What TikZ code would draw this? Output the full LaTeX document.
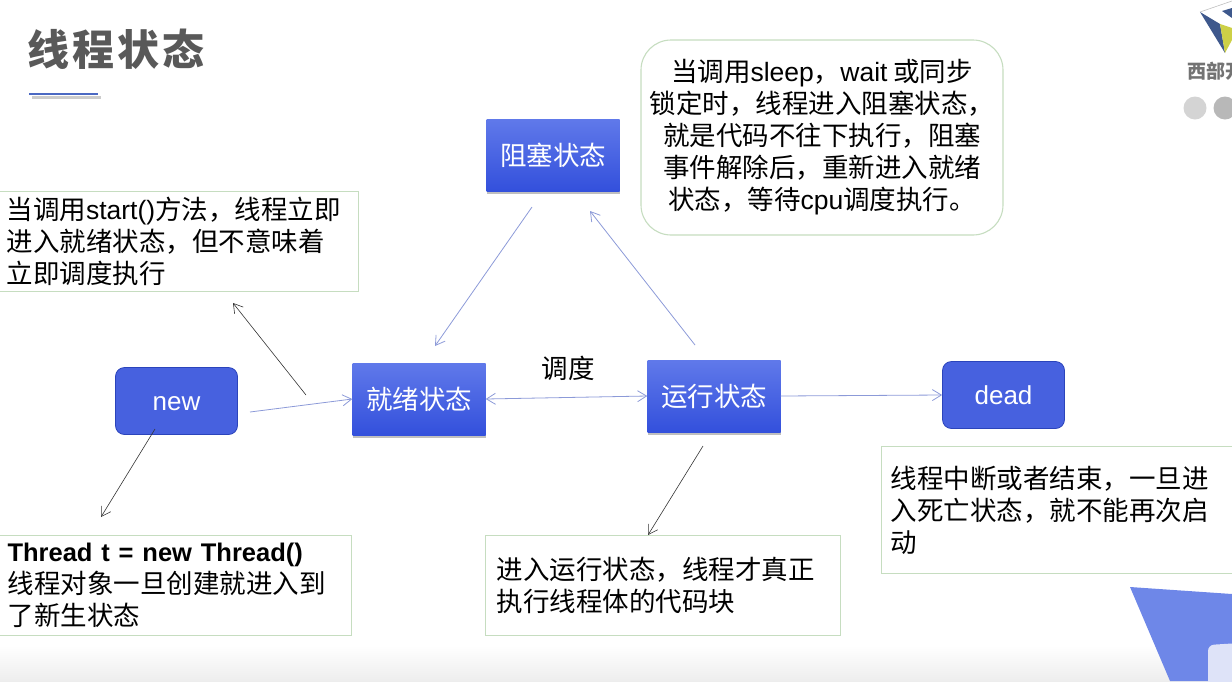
\documentclass[tikz,border=0pt]{standalone}
\usepackage{fontspec}
\setmainfont{Noto Sans CJK SC}
\newfontfamily\latinfont{Liberation Sans}
\usetikzlibrary{shadows, arrows.meta, positioning}
\definecolor{notegreen}{HTML}{C6DDC0}
\definecolor{linkblue}{HTML}{8C9AD8}
\definecolor{statetop}{HTML}{6079EA}
\definecolor{statebot}{HTML}{3350DC}
\tikzset{
	state/.style={top color=statetop, bottom color=statebot, text=white, font=\fontsize{26.5}{30}\selectfont, inner sep=0pt, drop shadow={shadow xshift=0.5pt, shadow yshift=-2.5pt, opacity=0.5}},
	endstate/.style={fill=statebot!90!white, draw=statebot!85!black, line width=0.8pt, rounded corners=9pt, text=white, font=\fontsize{26}{30}\selectfont\latinfont, inner sep=0pt},
	note/.style={draw=notegreen, line width=1.1pt, fill=white, inner sep=0pt, font=\fontsize{26.5}{32}\selectfont},
	link/.style={draw=linkblue, line width=0.8pt, -{Straight Barb[length=9pt,width=11pt]}},
	hint/.style={draw=black!80, line width=0.6pt, -{Straight Barb[length=9pt,width=11pt]}}
}
\begin{document}
\begin{tikzpicture}[x=1pt, y=-1pt]
	\useasboundingbox (0,0) rectangle (1232,681);
	% bottom fade and corner decoration
	\fill[top color=white, bottom color=black!7] (0,645) rectangle (1232,681);
	\fill[color={rgb,255:red,110;green,135;blue,232}] (1130,587) -- (1232,594) -- (1232,681) -- (1170,681) -- cycle;
	\fill[color={rgb,255:red,222;green,227;blue,248}, rounded corners=6pt] (1208,690) -- (1208,645) -- (1240,643) -- (1240,690) -- cycle;
	% logo
	\fill[color={rgb,255:red,62;green,88;blue,140}] (1200,12) -- (1220,24) -- (1225,53) -- cycle;
	\fill[color={rgb,255:red,205;green,208;blue,70}] (1220,24) -- (1232,28) -- (1232,40) -- (1225,53) -- cycle;
	\fill[color={rgb,255:red,62;green,88;blue,140}] (1222,11) -- (1232,8) -- (1232,18) -- cycle;
	\draw[black!25, line width=0.6pt] (1200,12) -- (1232,1);
	\node[text=black!55, font=\fontsize{19}{22}\selectfont\bfseries, anchor=west, inner sep=0pt] (logotext) at (1187,71) {西部开};
	\fill[black!17] (1195,108) circle (11.5);
	\fill[black!28] (1225,108) circle (11.5);
	% title
	\node[text=black!65, font=\fontsize{42}{48}\selectfont\bfseries, anchor=west, inner sep=0pt] (title) at (27,49) {线\hspace{3pt}程\hspace{3pt}状\hspace{3pt}态};
	\fill[black!20] (32,96) rectangle (101,99);
	\draw[color={rgb,255:red,75;green,105;blue,195}, line width=2pt] (29,94) -- (98,94);
	% states
	\node[state, minimum width=133pt, minimum height=72pt] (blocked) at (553,155) {阻塞状态};
	\node[state, minimum width=133pt, minimum height=72pt] (ready) at (419,399) {就绪状态};
	\node[state, minimum width=133pt, minimum height=72pt] (running) at (714,396) {运行状态};
	\node[endstate, minimum width=122pt, minimum height=67pt, text depth=0pt, text height=19pt] (new) at (176.5,401) {new};
	\node[endstate, minimum width=122pt, minimum height=67pt] (dead) at (1003.5,395) {dead};
	\node[font=\fontsize{26.5}{30}\selectfont, inner sep=0pt] (sched) at (568,368) {调度};
	% notes
	\node[note, minimum width=360pt, minimum height=100pt, anchor=north west, align=left, text width=352pt] (startnote) at (-2,191)
		{\hspace*{4pt}当调用{\latinfont start()}方法，线程立即\\\hspace*{4pt}进入就绪状态，但不意味着\\\hspace*{4pt}立即调度执行};
	\node[note, minimum width=362pt, minimum height=100pt, anchor=north west, align=left, text width=354pt] (newnote) at (-11,535)
		{\hspace*{14pt}{\fontsize{25.5}{32}\selectfont\latinfont\bfseries Thread t = new Thread()}\\\hspace*{14pt}线程对象一旦创建就进入到\\\hspace*{14pt}了新生状态};
	\node[note, minimum width=355pt, minimum height=100pt, anchor=north west, align=left, text width=345pt] (runnote) at (485,535)
		{\hspace*{6pt}进入运行状态，线程才真正\\\hspace*{6pt}执行线程体的代码块};
	\node[note, minimum width=370pt, minimum height=127pt, anchor=north west, align=left, text width=360pt] (deadnote) at (881,446)
		{\hspace*{4pt}线程中断或者结束，一旦进\\\hspace*{4pt}入死亡状态，就不能再次启\\\hspace*{4pt}动};
	\node[note, rounded corners=30pt, minimum width=362pt, minimum height=195pt, align=center, font=\fontsize{26.5}{32}\selectfont] (blocknote) at (822,137.5)
		{当调用{\latinfont sleep}，{\latinfont wait} 或同步\\锁定时，线程进入阻塞状态，\\就是代码不往下执行，阻塞\\事件解除后，重新进入就绪\\状态，等待{\latinfont cpu}调度执行。};
	% free ends of the connectors
	\coordinate (newout) at (250,412);
	\coordinate (startfrom) at (306,395);
	\coordinate (startto) at (233,303);
	\coordinate (newfrom) at (155,429);
	\coordinate (newto) at (101,517);
	\coordinate (runfrom) at (703,446);
	\coordinate (runto) at (648,535);
	\coordinate (blockout) at (532,207);
	\coordinate (blockin) at (435,346);
	\coordinate (runout) at (695,345);
	\coordinate (runin) at (590,211);
	% connectors
	\draw[link] (newout) -- (ready.west);
	\draw[link, {Straight Barb[length=9pt,width=11pt]}-{Straight Barb[length=9pt,width=11pt]}] (ready.east) -- (running.west);
	\draw[link] (running.east) -- (dead.west);
	\draw[link] (blockout) -- (blockin);
	\draw[link] (runout) -- (runin);
	\draw[hint] (startfrom) -- (startto);
	\draw[hint] (newfrom) -- (newto);
	\draw[hint] (runfrom) -- (runto);
\end{tikzpicture}
\end{document}
